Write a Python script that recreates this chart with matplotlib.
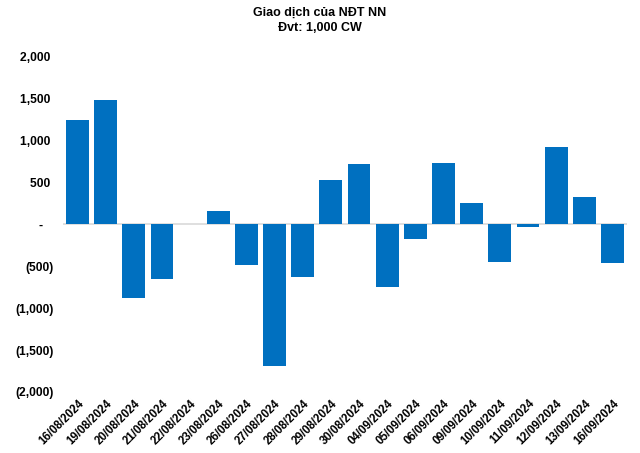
import matplotlib
matplotlib.use("Agg")
import matplotlib.pyplot as plt
from matplotlib.ticker import FuncFormatter

dates = ["16/08/2024", "19/08/2024", "20/08/2024", "21/08/2024", "22/08/2024",
         "23/08/2024", "26/08/2024", "27/08/2024", "28/08/2024", "29/08/2024",
         "30/08/2024", "04/09/2024", "05/09/2024", "06/09/2024", "09/09/2024",
         "10/09/2024", "11/09/2024", "12/09/2024", "13/09/2024", "16/09/2024"]
values = [1238, 1476, -877, -651, 0, 155, -484, -1686, -627, 524,
          714, -746, -175, 726, 250, -448, -32, 916, 321, -460]
yticks = [-2000, -1500, -1000, -500, 0, 500, 1000, 1500, 2000]

plt.rcParams['font.family'] = ['Liberation Sans', 'DejaVu Sans']

fig = plt.figure(figsize=(6.4, 4.53), dpi=100)
ax = fig.add_axes([0.099, 0.1347, 0.88, 0.7413])

x = list(range(len(dates)))
ax.bar(x, values, width=0.81, color="#0070C0", zorder=2)
ax.axhline(0, color="#D9D9D9", linewidth=1.2, zorder=1)

ax.set_xlim(-0.5, len(dates) - 0.5)
ax.set_ylim(-2000, 2000)
ax.set_yticks(yticks)

def fmt(v, pos):
    v = int(round(v))
    if v == 0:
        return "-   "
    if v < 0:
        return "({:,})".format(-v)
    return "{:,} ".format(v)

ax.yaxis.set_major_formatter(FuncFormatter(fmt))
ax.set_xticks(x)
ax.set_xticklabels(dates, rotation=45, ha="right", rotation_mode="anchor")

for lbl in ax.get_yticklabels():
    lbl.set_fontweight("bold")
    lbl.set_fontsize(8.7)
for lbl in ax.get_xticklabels():
    lbl.set_fontweight("bold")
    lbl.set_fontsize(8.3)

for s in ax.spines.values():
    s.set_visible(False)
ax.tick_params(axis="both", length=0)
ax.tick_params(axis="y", pad=7)
ax.tick_params(axis="x", pad=4)

fig.text(0.5, 0.972, "Giao dịch của NĐT NN", ha="center", va="center",
         fontsize=9, fontweight="bold")
fig.text(0.5, 0.938, "Đvt: 1,000 CW", ha="center", va="center",
         fontsize=9, fontweight="bold")

fig.savefig("out.png", dpi=100)
